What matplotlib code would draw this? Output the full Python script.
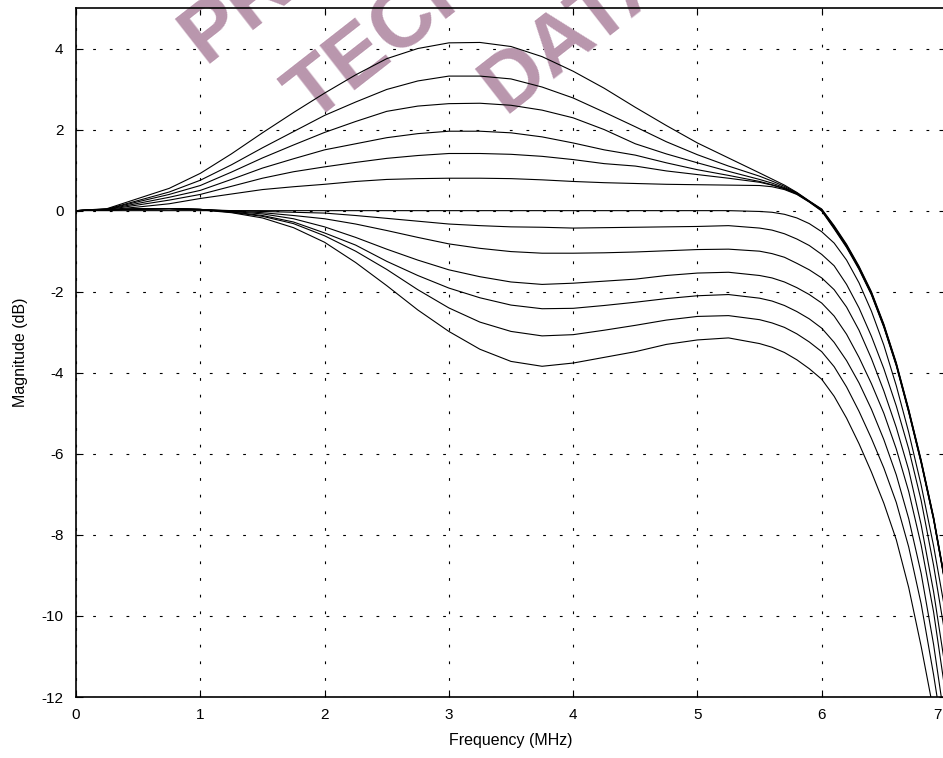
import matplotlib
matplotlib.use("Agg")
import matplotlib.pyplot as plt
from matplotlib.transforms import ScaledTranslation

# frequency grid (MHz)
freq = [0, 0.25, 0.5, 0.75, 1.0, 1.25, 1.5, 1.75, 2.0, 2.25, 2.5, 2.75, 3.0, 3.25,
        3.5, 3.75, 4.0, 4.25, 4.5, 4.75, 5.0, 5.25, 5.5, 5.6, 5.7, 5.8, 5.9, 6.0,
        6.1, 6.2, 6.3, 6.4, 6.5, 6.6, 6.7, 6.8, 6.9, 7.0]

# boost settings (dB)
eq_up6 = [0, 0.05, 0.30, 0.55, 0.92, 1.40, 1.92, 2.42, 2.90, 3.35, 3.75, 4.00, 4.14, 4.15,
          4.05, 3.80, 3.44, 3.02, 2.55, 2.10, 1.67, 1.30, 0.93, 0.78, 0.63, 0.45, 0.24, 0.04,
          -0.37, -0.83, -1.37, -2.00, -2.80, -3.75, -4.90, -6.15, -7.55, -9.25]
eq_up5 = [0, 0.04, 0.25, 0.46, 0.75, 1.13, 1.55, 1.95, 2.35, 2.68, 2.99, 3.20, 3.32, 3.32,
          3.25, 3.05, 2.78, 2.43, 2.07, 1.70, 1.38, 1.10, 0.85, 0.73, 0.60, 0.44, 0.23, 0.03,
          -0.39, -0.85, -1.39, -2.02, -2.82, -3.77, -4.92, -6.17, -7.57, -9.27]
eq_up4 = [0, 0.035, 0.22, 0.40, 0.62, 0.95, 1.30, 1.62, 1.93, 2.20, 2.45, 2.58, 2.64, 2.65,
          2.60, 2.48, 2.29, 2.00, 1.65, 1.40, 1.18, 0.97, 0.77, 0.68, 0.57, 0.43, 0.23, 0.02,
          -0.41, -0.87, -1.41, -2.04, -2.84, -3.79, -4.94, -6.19, -7.59, -9.29]
eq_up3 = [0, 0.03, 0.18, 0.33, 0.50, 0.77, 1.05, 1.28, 1.50, 1.65, 1.80, 1.90, 1.96, 1.96,
          1.92, 1.82, 1.67, 1.50, 1.37, 1.18, 1.01, 0.87, 0.72, 0.64, 0.55, 0.42, 0.22, 0.01,
          -0.42, -0.88, -1.42, -2.05, -2.85, -3.80, -4.95, -6.20, -7.60, -9.30]
eq_up2 = [0, 0.025, 0.14, 0.26, 0.40, 0.60, 0.80, 0.96, 1.08, 1.19, 1.29, 1.36, 1.41, 1.41,
          1.39, 1.34, 1.26, 1.16, 1.10, 0.98, 0.89, 0.80, 0.70, 0.63, 0.54, 0.41, 0.22, 0.00,
          -0.43, -0.89, -1.43, -2.06, -2.86, -3.81, -4.96, -6.21, -7.61, -9.31]
eq_up1 = [0, 0.02, 0.09, 0.17, 0.30, 0.41, 0.52, 0.59, 0.65, 0.72, 0.77, 0.79, 0.80, 0.80,
          0.79, 0.76, 0.72, 0.69, 0.67, 0.65, 0.64, 0.63, 0.62, 0.59, 0.52, 0.40, 0.21, -0.01,
          -0.45, -0.91, -1.45, -2.08, -2.88, -3.83, -4.98, -6.23, -7.63, -9.33]

# flat setting
eq_flat = [0, 0, 0, 0, 0, 0, 0, 0, 0, 0, 0, 0, 0, 0,
           0, 0, 0, 0, 0, 0, 0, 0, -0.02, -0.04, -0.09, -0.18, -0.32, -0.52,
           -0.80, -1.22, -1.78, -2.48, -3.32, -4.32, -5.47, -6.77, -8.27, -10.00]

# cut settings (dB)
eq_dn1 = [0, 0.02, 0.04, 0.05, 0.03, 0.00, -0.02, -0.04, -0.06, -0.12, -0.19, -0.26, -0.33, -0.37,
          -0.40, -0.41, -0.43, -0.42, -0.41, -0.40, -0.39, -0.37, -0.43, -0.48, -0.57, -0.70, -0.86, -1.08,
          -1.36, -1.82, -2.40, -3.10, -3.90, -4.82, -5.88, -7.15, -8.75, -10.60]
eq_dn2 = [0, 0.02, 0.04, 0.05, 0.03, -0.01, -0.05, -0.12, -0.20, -0.33, -0.49, -0.66, -0.82, -0.93,
          -1.01, -1.05, -1.05, -1.04, -1.02, -0.99, -0.96, -0.95, -1.00, -1.06, -1.15, -1.30, -1.46, -1.66,
          -1.95, -2.38, -2.95, -3.65, -4.45, -5.35, -6.40, -7.75, -9.40, -11.40]
eq_dn3 = [0, 0.02, 0.04, 0.05, 0.03, -0.02, -0.08, -0.20, -0.40, -0.66, -0.95, -1.22, -1.46, -1.63,
          -1.76, -1.82, -1.79, -1.74, -1.69, -1.60, -1.54, -1.52, -1.60, -1.66, -1.76, -1.90, -2.07, -2.28,
          -2.60, -3.05, -3.62, -4.27, -5.00, -5.88, -6.93, -8.25, -9.90, -12.00]
eq_dn4 = [0, 0.02, 0.04, 0.05, 0.03, -0.03, -0.12, -0.28, -0.55, -0.85, -1.25, -1.60, -1.91, -2.15,
          -2.33, -2.42, -2.41, -2.34, -2.26, -2.17, -2.10, -2.07, -2.16, -2.23, -2.34, -2.49, -2.67, -2.90,
          -3.25, -3.70, -4.25, -4.90, -5.65, -6.52, -7.60, -8.95, -10.70, -12.80]
eq_dn5 = [0, 0.02, 0.04, 0.05, 0.03, -0.04, -0.14, -0.32, -0.62, -1.00, -1.45, -1.95, -2.40, -2.75,
          -2.98, -3.09, -3.06, -2.95, -2.83, -2.70, -2.61, -2.59, -2.69, -2.77, -2.88, -3.04, -3.24, -3.48,
          -3.85, -4.35, -4.95, -5.62, -6.35, -7.20, -8.30, -9.70, -11.45, -13.40]
eq_dn6 = [0, 0.02, 0.04, 0.05, 0.02, -0.05, -0.18, -0.42, -0.78, -1.28, -1.85, -2.45, -2.98, -3.42,
          -3.72, -3.84, -3.76, -3.62, -3.48, -3.30, -3.19, -3.14, -3.28, -3.37, -3.50, -3.68, -3.90, -4.16,
          -4.58, -5.12, -5.75, -6.45, -7.22, -8.12, -9.30, -10.75, -12.35, -14.10]

x_ticks = [0, 1, 2, 3, 4, 5, 6, 7]
y_ticks = [-12, -10, -8, -6, -4, -2, 0, 2, 4]

watermark = ["PRELIMINARY", "TECHNICAL", "DATA"]
watermark_pos = [(204, 64), (311, 124), (504, 114)]  # pixel start of each line

plt.rcParams['font.family'] = ['Liberation Sans', 'DejaVu Sans']
plt.rcParams['axes.unicode_minus'] = False

fig = plt.figure(figsize=(9.43, 7.58), dpi=100)
ax = fig.add_axes([76 / 943, 61 / 758, 870 / 943, 689 / 758])

curves = [eq_up6, eq_up5, eq_up4, eq_up3, eq_up2, eq_up1, eq_flat,
          eq_dn1, eq_dn2, eq_dn3, eq_dn4, eq_dn5, eq_dn6]
for c in curves:
    ax.plot(freq, c, color='black', lw=0.8, zorder=3)

# watermark behind the curves
for txt, (px, py) in zip(watermark, watermark_pos):
    ax.text(px / 943, 1 - py / 758, txt, transform=fig.transFigure,
            rotation=38, rotation_mode='anchor', ha='left', va='baseline',
            fontsize=60, fontweight='bold', color='#b996ad', zorder=1, clip_on=False)

ax.set_xlim(0, 7)
ax.set_ylim(-12, 5)
ax.set_xticks(x_ticks)
ax.set_yticks(y_ticks)
ax.set_axisbelow(True)
ax.grid(True, color='black', lw=0.8, linestyle=(0, (2.5, 12.5)))
ax.tick_params(direction='in', top=True, right=True, length=5, width=0.8, labelsize=11)
ax.tick_params(axis='x', pad=8)
ax.tick_params(axis='y', pad=9)
# last x label sits at the very edge of the figure, nudge it inside
last = ax.get_xticklabels()[-1]
last.set_transform(last.get_transform() + ScaledTranslation(-6 / 72, 0, fig.dpi_scale_trans))
for s in ax.spines.values():
    s.set_linewidth(1.2)
    s.set_zorder(4)

ax.set_xlabel("Frequency (MHz)", fontsize=11.5, labelpad=8)
ax.set_ylabel("Magnitude (dB)", fontsize=11.5, labelpad=10)

fig.savefig("out.png", dpi=100)
